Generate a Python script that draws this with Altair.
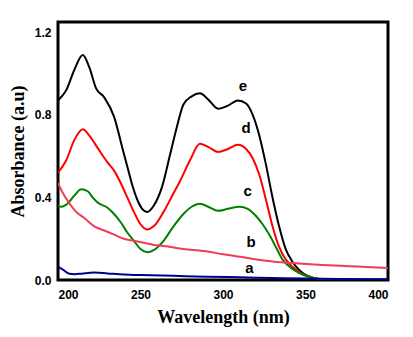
import altair as alt
import pandas as pd

# curve e (black)
e_x = [200,205,210,215,219,223,228,234,239,242,245,248,251,254,258,263,268,272,276,281,286,291,297,303,309,314,318,322,326,330,334,338,342,346,350,355,362,400]
e_y = [0.87,0.92,1.02,1.09,1.03,0.93,0.885,0.79,0.64,0.55,0.46,0.39,0.345,0.33,0.36,0.45,0.61,0.74,0.85,0.89,0.905,0.875,0.83,0.845,0.87,0.855,0.80,0.70,0.56,0.40,0.26,0.15,0.09,0.05,0.025,0.01,0.0,0.0]
# curve d (red)
d_x = [200,205,210,215,219,224,230,234,238,242,246,250,254,258,264,270,274,280,286,291,297,303,309,314,318,322,326,330,334,338,342,346,350,355,362,370,400]
d_y = [0.52,0.58,0.68,0.73,0.70,0.64,0.57,0.53,0.47,0.40,0.33,0.27,0.245,0.26,0.33,0.42,0.48,0.58,0.66,0.645,0.62,0.635,0.655,0.635,0.59,0.51,0.39,0.26,0.16,0.10,0.065,0.04,0.022,0.01,0.003,0.0,0.0]
# curve c (green)
c_x = [200,202,205,210,214,218,221,224,230,234,238,242,246,250,254,258,264,270,276,281,286,291,297,303,310,315,320,324,328,332,336,341,346,351,356,362,400]
c_y = [0.36,0.355,0.365,0.41,0.44,0.43,0.40,0.375,0.35,0.32,0.28,0.23,0.19,0.15,0.135,0.145,0.19,0.26,0.32,0.355,0.37,0.355,0.335,0.345,0.355,0.345,0.31,0.27,0.22,0.16,0.10,0.06,0.035,0.018,0.008,0.0,0.0]
# curve b (pink)
b_x = [200,203,207,211,216,222,228,234,240,246,252,258,264,276,288,300,316,330,346,360,376,390,400]
b_y = [0.47,0.42,0.37,0.33,0.30,0.26,0.24,0.22,0.20,0.19,0.18,0.17,0.165,0.15,0.14,0.125,0.105,0.09,0.08,0.073,0.067,0.062,0.058]
# curve a (navy)
a_x = [200,203,207,210,215,222,230,240,250,270,290,310,330,350,370,400]
a_y = [0.065,0.05,0.03,0.028,0.032,0.036,0.032,0.027,0.024,0.02,0.016,0.013,0.01,0.007,0.005,0.004]

labels = ["e", "d", "c", "b", "a"]
label_x = [312, 314, 315, 317, 316]
label_y = [0.94, 0.735, 0.43, 0.184, 0.058]

colors = {"e": "#000000", "d": "#FF0000", "c": "#008000", "b": "#F03C55", "a": "#00008B"}

rows = []
for name, xs, ys in [("e", e_x, e_y), ("d", d_x, d_y), ("c", c_x, c_y), ("b", b_x, b_y), ("a", a_x, a_y)]:
    for x, y in zip(xs, ys):
        rows.append({"series": name, "wl": x, "abs": y})
df = pd.DataFrame(rows)
lab = pd.DataFrame({"series": labels, "wl": label_x, "abs": label_y})

xscale = alt.Scale(domain=[200, 400], nice=False)
yscale = alt.Scale(domain=[0, 1.25], nice=False)

lines = alt.Chart(df).mark_line(strokeWidth=2, interpolate="monotone", clip=True).encode(
    x=alt.X("wl:Q", scale=xscale,
            axis=alt.Axis(title="Wavelength (nm)", values=[200, 250, 300, 350, 400], format="d")),
    y=alt.Y("abs:Q", scale=yscale,
            axis=alt.Axis(title="Absorbance (a.u)", values=[0, 0.4, 0.8, 1.2], format=".1f")),
    color=alt.Color("series:N", scale=alt.Scale(domain=list(colors.keys()), range=list(colors.values())), legend=None),
    detail="series:N",
)

texts = alt.Chart(lab).mark_text(font="Liberation Sans", fontWeight="bold", fontSize=15, color="black").encode(
    x=alt.X("wl:Q", scale=xscale),
    y=alt.Y("abs:Q", scale=yscale),
    text="series:N",
)

chart = (lines + texts).properties(
    width=330, height=258,
    autosize="none",
    padding={"left": 58, "top": 22, "right": 25, "bottom": 57},
).configure_view(
    stroke="black", strokeWidth=3
).configure_axis(
    domain=False, ticks=False, grid=False,
    labelFont="Liberation Sans", labelFontWeight="bold", labelFontSize=12, labelColor="black",
    titleFont="Liberation Serif", titleFontWeight="bold", titleFontSize=18, titleColor="black",
).configure_axisY(
    labelPadding=7, titlePadding=7
).configure_axisX(
    labelPadding=9, titlePadding=8
)

chart.save("out.html", embed_options={"renderer": "svg", "actions": False})
